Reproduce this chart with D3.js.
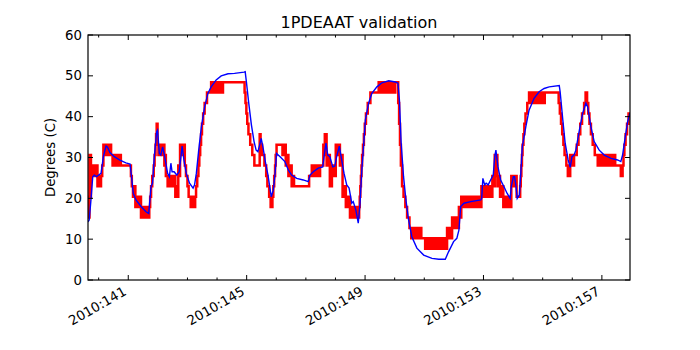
<!doctype html>
<html lang="en">
<head>
<meta charset="utf-8">
<title>1PDEAAT validation</title>
<script src="https://d3js.org/d3.v7.min.js"></script>
<style>
  body { margin: 0; background: #fff; }
  text { font-family: "DejaVu Sans", sans-serif; fill: #000; }
  .frame { fill: none; stroke: #000; stroke-width: 1.2; }
  .tick { stroke: #000; stroke-width: 1; }
</style>
</head>
<body>
<div id="chart"></div>
<script>
// x range in day-of-year (2010), y in degrees C
var xDomain = [139.64, 157.95];
var yDomain = [0, 60];
var yTicks = [0, 10, 20, 30, 40, 50, 60];
var majorDays = [141, 145, 149, 153, 157];
var minorDays = [140, 141, 142, 143, 144, 145, 146, 147, 148, 149, 150, 151, 152, 153, 154, 155, 156, 157];

// telemetry (quantized): [day, low, high] held until the next row
var redSteps = [
  [139.64, 15.3, 20.4], [139.69, 20.4, 30.6], [139.74, 25.5, 28.05], [139.96, 22.95, 25.5],
  [140.08, 25.5, 25.5], [140.12, 28.05, 28.05], [140.16, 30.6, 33.15], [140.42, 30.6, 30.6],
  [140.47, 28.05, 30.6], [140.75, 28.05, 28.05], [141.09, 25.5, 25.5], [141.12, 22.95, 22.95],
  [141.16, 20.4, 22.95], [141.24, 17.85, 20.4], [141.43, 15.3, 17.85], [141.71, 17.85, 17.85],
  [141.74, 20.4, 20.4], [141.77, 22.95, 22.95], [141.81, 25.5, 25.5], [141.86, 28.05, 28.05],
  [141.89, 30.6, 30.6], [141.92, 33.15, 33.15], [141.94, 35.7, 35.7], [141.96, 38.25, 38.25],
  [141.99, 33.15, 33.15], [142.02, 30.6, 33.15], [142.22, 28.05, 30.6], [142.27, 25.5, 25.5],
  [142.33, 22.95, 25.5], [142.59, 20.4, 22.95], [142.69, 25.5, 28.05], [142.75, 30.6, 33.15],
  [142.91, 28.05, 28.05], [142.95, 25.5, 25.5], [143.00, 22.95, 22.95], [143.04, 20.4, 20.4],
  [143.11, 17.85, 20.4], [143.26, 20.4, 20.4], [143.29, 22.95, 22.95], [143.33, 25.5, 25.5],
  [143.37, 28.05, 28.05], [143.40, 30.6, 30.6], [143.43, 33.15, 33.15], [143.46, 35.7, 35.7],
  [143.49, 38.25, 38.25], [143.53, 40.8, 40.8], [143.58, 43.35, 43.35], [143.66, 45.9, 45.9],
  [143.80, 45.9, 48.45], [144.20, 48.45, 48.45], [144.93, 45.9, 45.9], [144.96, 43.35, 43.35],
  [144.99, 40.8, 40.8], [145.02, 38.25, 38.25], [145.06, 35.7, 35.7], [145.12, 33.15, 33.15],
  [145.19, 30.6, 30.6], [145.26, 28.05, 28.05], [145.44, 35.7, 35.7], [145.47, 33.15, 33.15],
  [145.52, 30.6, 30.6], [145.60, 28.05, 28.05], [145.66, 25.5, 25.5], [145.70, 22.95, 22.95],
  [145.76, 20.4, 20.4], [145.81, 17.85, 17.85], [145.87, 20.4, 20.4], [145.90, 22.95, 22.95],
  [145.93, 25.5, 25.5], [145.96, 28.05, 28.05], [145.98, 30.6, 30.6], [146.01, 33.15, 33.15],
  [146.21, 30.6, 33.15], [146.32, 28.05, 30.6], [146.41, 25.5, 28.05], [146.52, 22.95, 25.5],
  [146.60, 22.95, 22.95], [147.11, 25.5, 25.5], [147.20, 25.5, 28.05], [147.48, 28.05, 28.05],
  [147.59, 30.6, 33.15], [147.64, 33.15, 35.7], [147.70, 28.05, 30.6], [147.81, 22.95, 28.05],
  [147.88, 25.5, 28.05], [148.01, 30.6, 33.15], [148.15, 28.05, 30.6], [148.24, 20.4, 22.95],
  [148.35, 17.85, 20.4], [148.49, 15.3, 17.85], [148.74, 15.3, 15.3], [148.80, 17.85, 17.85],
  [148.82, 20.4, 20.4], [148.84, 22.95, 22.95], [148.86, 25.5, 25.5], [148.88, 28.05, 28.05],
  [148.90, 30.6, 30.6], [148.93, 33.15, 33.15], [148.96, 35.7, 35.7], [148.99, 38.25, 38.25],
  [149.03, 40.8, 40.8], [149.09, 43.35, 43.35], [149.18, 45.9, 45.9], [149.46, 45.9, 48.45],
  [150.02, 48.45, 48.45], [150.12, 43.35, 43.35], [150.15, 38.25, 38.25], [150.18, 33.15, 33.15],
  [150.21, 28.05, 28.05], [150.25, 22.95, 22.95], [150.30, 20.4, 20.4], [150.36, 17.85, 17.85],
  [150.42, 15.3, 15.3], [150.50, 12.75, 12.75], [150.56, 10.2, 12.75], [150.90, 10.2, 10.2],
  [151.03, 7.65, 10.2], [151.77, 10.2, 12.75], [151.94, 12.75, 15.3], [152.17, 15.3, 17.85],
  [152.25, 17.85, 20.4], [152.93, 20.4, 22.95], [153.30, 22.95, 25.5], [153.38, 25.5, 30.6],
  [153.47, 22.95, 25.5], [153.56, 20.4, 22.95], [153.67, 17.85, 20.4], [153.94, 22.95, 25.5],
  [154.12, 20.4, 20.4], [154.24, 22.95, 22.95], [154.26, 25.5, 25.5], [154.28, 28.05, 28.05],
  [154.30, 30.6, 30.6], [154.32, 33.15, 33.15], [154.35, 35.7, 35.7], [154.38, 38.25, 38.25],
  [154.42, 40.8, 40.8], [154.48, 43.35, 43.35], [154.54, 43.35, 45.9], [155.07, 45.9, 45.9],
  [155.54, 43.35, 43.35], [155.58, 40.8, 40.8], [155.62, 38.25, 38.25], [155.66, 35.7, 35.7],
  [155.70, 33.15, 33.15], [155.74, 30.6, 30.6], [155.80, 28.05, 28.05], [155.85, 25.5, 25.5],
  [155.93, 28.05, 30.6], [156.06, 30.6, 30.6], [156.15, 33.15, 33.15], [156.21, 35.7, 35.7],
  [156.27, 38.25, 38.25], [156.33, 40.8, 40.8], [156.40, 43.35, 43.35], [156.45, 45.9, 45.9],
  [156.50, 43.35, 43.35], [156.54, 40.8, 40.8], [156.58, 38.25, 38.25], [156.63, 35.7, 35.7],
  [156.69, 33.15, 33.15], [156.76, 30.6, 30.6], [156.86, 28.05, 30.6], [157.45, 28.05, 28.05],
  [157.64, 25.5, 25.5], [157.70, 28.05, 28.05], [157.73, 30.6, 30.6], [157.76, 33.15, 33.15],
  [157.80, 35.7, 35.7], [157.85, 38.25, 38.25], [157.90, 40.8, 40.8], [157.95, 40.8, 40.8]
];

// model prediction: [day, deg]
var bluePoints = [
  [139.64, 14.2], [139.68, 14.7], [139.74, 19.6], [139.80, 25.3], [139.85, 25.7], [139.93, 25.3],
  [140.00, 25.7], [140.08, 26.1], [140.16, 30.2], [140.25, 32.8], [140.30, 32.5], [140.38, 31.2],
  [140.53, 30.2], [140.70, 29.4], [140.92, 28.7], [141.06, 28.4], [141.11, 25.3], [141.17, 21.2],
  [141.26, 19.6], [141.43, 18.0], [141.60, 16.7], [141.69, 16.3], [141.77, 22.9], [141.82, 23.7],
  [141.88, 30.2], [141.96, 36.3], [141.99, 36.7], [142.05, 31.0], [142.10, 30.6], [142.16, 32.6],
  [142.23, 30.2], [142.33, 26.1], [142.39, 25.3], [142.44, 28.6], [142.48, 26.5], [142.55, 26.5],
  [142.64, 25.7], [142.72, 26.5], [142.78, 30.2], [142.82, 32.8], [142.88, 29.4], [142.96, 26.1],
  [143.07, 23.7], [143.19, 22.5], [143.24, 23.3], [143.30, 26.1], [143.38, 31.8], [143.47, 37.5],
  [143.58, 42.4], [143.69, 45.7], [143.80, 47.3], [143.97, 49.0], [144.14, 50.0], [144.37, 50.5],
  [144.59, 50.6], [144.91, 50.9], [144.95, 51.0], [144.99, 48.6], [145.07, 43.3], [145.16, 38.0],
  [145.25, 33.9], [145.32, 31.8], [145.38, 31.4], [145.44, 33.1], [145.49, 34.7], [145.55, 32.6],
  [145.63, 29.0], [145.72, 25.7], [145.83, 20.4], [145.90, 22.0], [145.96, 26.1], [146.01, 31.0],
  [146.13, 30.2], [146.29, 29.0], [146.41, 26.9], [146.52, 25.7], [146.69, 24.9], [146.91, 24.5],
  [147.08, 24.1], [147.14, 25.7], [147.25, 26.5], [147.42, 27.4], [147.57, 27.7], [147.62, 30.6],
  [147.68, 33.5], [147.74, 30.6], [147.81, 30.2], [147.91, 27.7], [147.98, 27.9], [148.04, 30.2],
  [148.13, 32.8], [148.21, 29.4], [148.29, 26.1], [148.38, 23.3], [148.46, 22.5], [148.55, 18.8],
  [148.60, 19.2], [148.69, 17.1], [148.77, 13.9], [148.83, 18.8], [148.89, 26.9], [148.94, 31.8],
  [149.01, 39.2], [149.12, 43.3], [149.23, 45.7], [149.40, 47.3], [149.57, 48.3], [149.80, 48.8],
  [150.02, 48.5], [150.11, 48.2], [150.16, 44.1], [150.22, 33.5], [150.30, 25.3], [150.38, 19.6],
  [150.47, 14.7], [150.58, 10.6], [150.75, 7.8], [150.98, 6.1], [151.26, 5.3], [151.49, 5.1],
  [151.71, 5.1], [151.82, 6.9], [151.99, 9.4], [152.10, 10.2], [152.17, 12.2], [152.23, 18.0],
  [152.34, 18.8], [152.57, 19.2], [152.91, 19.6], [152.94, 20.0], [152.98, 24.9], [153.04, 23.3],
  [153.09, 23.7], [153.16, 23.3], [153.24, 24.5], [153.33, 25.7], [153.38, 30.2], [153.42, 31.8],
  [153.49, 27.7], [153.58, 24.5], [153.69, 22.9], [153.80, 21.2], [153.90, 20.0], [153.94, 22.9],
  [154.01, 25.3], [154.05, 25.3], [154.10, 22.9], [154.14, 20.0], [154.21, 20.8], [154.26, 26.1],
  [154.31, 32.6], [154.43, 37.5], [154.54, 41.6], [154.71, 44.5], [154.88, 46.1], [155.05, 46.9],
  [155.22, 47.3], [155.56, 47.6], [155.59, 46.1], [155.68, 39.2], [155.76, 33.5], [155.86, 29.4],
  [155.93, 27.6], [155.99, 30.2], [156.06, 30.6], [156.12, 31.8], [156.24, 36.7], [156.35, 40.8],
  [156.46, 43.3], [156.52, 42.4], [156.63, 37.5], [156.74, 33.9], [156.91, 31.8], [157.08, 30.6],
  [157.31, 29.8], [157.53, 29.4], [157.64, 29.0], [157.70, 30.6], [157.79, 35.1], [157.87, 38.8],
  [157.95, 40.9]
];

var W = 700, H = 350;
var margin = {top: 35, right: 70, bottom: 70, left: 88};
var width = W - margin.left - margin.right,
    height = H - margin.top - margin.bottom;

var x = d3.scaleLinear().domain(xDomain).range([0, width]);
var y = d3.scaleLinear().domain(yDomain).range([height, 0]);

var svg = d3.select("#chart").append("svg")
  .attr("width", W)
  .attr("height", H);

var main = svg.append("g")
  .attr("transform", "translate(" + margin.left + "," + margin.top + ")");

svg.append("defs").append("clipPath").attr("id", "clip")
  .append("rect").attr("width", width).attr("height", height);

var plot = main.append("g").attr("clip-path", "url(#clip)");

// red telemetry as stepped band, so fast toggling shows as a solid block
var redArea = d3.area()
  .curve(d3.curveStepAfter)
  .x(function(d) { return x(d[0]); })
  .y0(function(d) { return y(d[1]); })
  .y1(function(d) { return y(d[2]); });

plot.append("path")
  .datum(redSteps)
  .attr("d", redArea)
  .attr("fill", "#ff0000")
  .attr("stroke", "#ff0000")
  .attr("stroke-width", 2.5)
  .attr("stroke-linejoin", "miter");

var blueLine = d3.line()
  .x(function(d) { return x(d[0]); })
  .y(function(d) { return y(d[1]); });

plot.append("path")
  .datum(bluePoints)
  .attr("d", blueLine)
  .attr("fill", "none")
  .attr("stroke", "#0000ff")
  .attr("stroke-width", 1.4);

// ticks, inward on all four sides (classic matplotlib look)
var ticks = main.append("g");
yTicks.forEach(function(v) {
  ticks.append("line").attr("class", "tick")
    .attr("x1", 0).attr("x2", 5).attr("y1", y(v)).attr("y2", y(v));
  ticks.append("line").attr("class", "tick")
    .attr("x1", width).attr("x2", width - 5).attr("y1", y(v)).attr("y2", y(v));
  ticks.append("text")
    .attr("x", -6).attr("y", y(v))
    .attr("text-anchor", "end")
    .attr("dominant-baseline", "central")
    .style("font-size", "13.3px")
    .text(v);
});

minorDays.forEach(function(d) {
  var len = majorDays.indexOf(d) >= 0 ? 5 : 2.5;
  ticks.append("line").attr("class", "tick")
    .attr("x1", x(d)).attr("x2", x(d)).attr("y1", height).attr("y2", height - len);
  ticks.append("line").attr("class", "tick")
    .attr("x1", x(d)).attr("x2", x(d)).attr("y1", 0).attr("y2", len);
});

majorDays.forEach(function(d) {
  ticks.append("text")
    .attr("transform", "translate(" + (x(d) - 1) + "," + (height + 14) + ") rotate(-30)")
    .attr("text-anchor", "end")
    .style("font-size", "13.3px")
    .text("2010:" + d);
});

main.append("rect").attr("class", "frame")
  .attr("x", 0).attr("y", 0)
  .attr("width", width).attr("height", height);

svg.append("text")
  .attr("x", margin.left + width / 2).attr("y", 28)
  .attr("text-anchor", "middle")
  .style("font-size", "16px")
  .text("1PDEAAT validation");

svg.append("text")
  .attr("transform", "translate(55," + (margin.top + height / 2) + ") rotate(-90)")
  .attr("text-anchor", "middle")
  .style("font-size", "13.3px")
  .text("Degrees (C)");
</script>
</body>
</html>
